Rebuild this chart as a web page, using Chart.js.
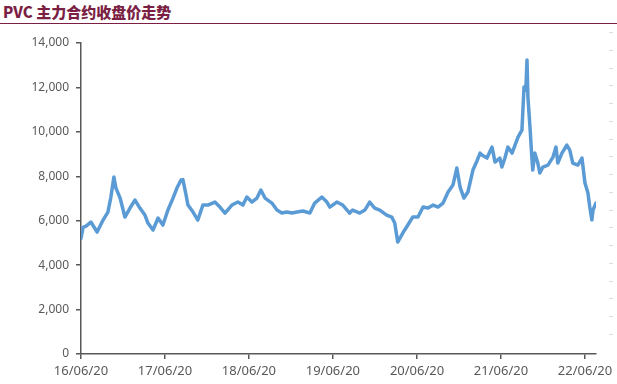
<!DOCTYPE html>
<html lang="zh">
<head>
  <meta charset="UTF-8">
  <title>PVC 主力合约收盘价走势</title>
  <style>
    html, body { margin: 0; padding: 0; background: #fff; }
    .wrap { position: relative; width: 617px; height: 384px; overflow: hidden; }
    .title {
      position: absolute; left: 0; top: 0; width: 617px; height: 24px;
      border-bottom: 1px solid #7b1f45;
      font-family: "Noto Sans CJK SC", sans-serif; font-weight: 900; font-size: 15px;
      color: #7b1f45; line-height: 24px; padding-left: 3px; box-sizing: border-box;
    }
    .box { position: absolute; left: 0; top: 25px; width: 617px; height: 359px; }
  </style>
</head>
<body>
  <div class="wrap">
    <div class="title">PVC 主力合约收盘价走势</div>
    <div class="box"><canvas id="graphic"></canvas></div>
  </div>

  <script src="https://cdn.jsdelivr.net/npm/chart.js"></script>
  <script>
    // 日期与收盘价(元/吨)
    const dates = [
      '2016-06-20','2016-06-29','2016-07-12','2016-08-02','2016-08-29','2016-09-24','2016-10-15','2016-10-28',
      '2016-11-10','2016-11-19','2016-12-07','2016-12-28','2017-01-19','2017-02-10','2017-03-03','2017-03-25',
      '2017-04-07','2017-04-29','2017-05-21','2017-06-11','2017-07-03','2017-07-25','2017-08-11','2017-08-29',
      '2017-09-06','2017-09-19','2017-09-28','2017-10-20','2017-11-10','2017-12-02','2017-12-24','2018-01-23',
      '2018-02-14','2018-03-08','2018-04-07','2018-05-03','2018-05-25','2018-06-11','2018-07-03','2018-07-25',
      '2018-08-11','2018-08-29','2018-09-28','2018-10-20','2018-11-10','2018-12-02','2018-12-24','2019-01-15',
      '2019-02-10','2019-03-12','2019-04-02','2019-05-03','2019-05-25','2019-06-07','2019-07-07','2019-08-02',
      '2019-09-01','2019-09-14','2019-10-15','2019-11-06','2019-11-27','2019-12-19','2020-01-10','2020-02-09',
      '2020-03-02','2020-03-15','2020-03-28','2020-04-19','2020-05-11','2020-06-01','2020-06-24','2020-07-16',
      '2020-08-07','2020-08-29','2020-09-19','2020-10-11','2020-11-02','2020-11-23','2020-12-10','2020-12-24',
      '2021-01-10','2021-01-27','2021-02-18','2021-03-08','2021-03-21','2021-03-29','2021-04-20','2021-05-12',
      '2021-05-25','2021-06-15','2021-06-24','2021-07-07','2021-07-20','2021-08-07','2021-08-20','2021-09-02',
      '2021-09-19','2021-09-28','2021-10-06','2021-10-11','2021-10-15','2021-10-24','2021-11-01','2021-11-05',
      '2021-11-14','2021-11-27','2021-12-06','2021-12-19','2022-01-10','2022-02-01','2022-02-14','2022-02-22',
      '2022-03-12','2022-04-02','2022-04-15','2022-04-28','2022-05-20','2022-06-07','2022-06-20','2022-07-03',
      '2022-07-11','2022-07-20','2022-07-25','2022-08-07'
    ];
    const prices = [
      5200,5700,5760,5940,5490,6030,6390,7065,
      7965,7470,7020,6165,6570,6930,6570,6255,
      5895,5580,6120,5805,6480,7020,7470,7830,
      7850,7200,6705,6390,6030,6705,6705,6840,
      6615,6345,6705,6840,6705,7065,6840,7020,
      7380,7020,6795,6480,6345,6390,6345,6390,
      6435,6345,6795,7065,6840,6615,6840,6705,
      6345,6480,6345,6480,6840,6570,6480,6255,
      6165,5895,5040,5445,5805,6165,6165,6615,
      6570,6705,6615,6795,7290,7605,8370,7515,
      7020,7290,8280,8700,9045,8955,8820,9315,
      8640,8820,8415,8820,9315,9045,9405,9765,
      10080,12015,11880,13230,11565,10215,8865,8280,
      9045,8595,8145,8415,8505,8865,9315,8595,
      9045,9405,9180,8595,8505,8820,7695,7245,
      6615,6030,6480,6795
    ];
    const yearTicks = ['2016-06-20','2017-06-20','2018-06-20','2019-06-20','2020-06-20','2021-06-20','2022-06-20'];
    const startDate = '2016-06-20';

    function dayOffset(d) {
      return (Date.parse(d) - Date.parse(startDate)) / 86400000;
    }
    function tickText(d) {
      // 2016-06-20 -> 16/06/20
      return d.slice(2).replace(/-/g, '/');
    }

    const points = dates.map((d, i) => ({ x: dayOffset(d), y: prices[i] }));
    const axisColor = '#595959';
    const labelFont = { family: '"Noto Sans", sans-serif', size: 12 };

    // 右侧浅灰短横线
    const sideMarks = {
      id: 'sideMarks',
      afterDraw(chart) {
        const ctx = chart.ctx;
        ctx.save();
        ctx.strokeStyle = '#dcdcdc';
        ctx.lineWidth = 1;
        for (let k = 0; k < 18; k++) {
          const y = 7.5 + Math.round(k * 17.75);
          ctx.beginPath();
          ctx.moveTo(609, y);
          ctx.lineTo(613, y);
          ctx.stroke();
        }
        ctx.restore();
      }
    };

    const grafico = new Chart(document.getElementById('graphic'), {
      type: 'line',
      data: {
        datasets: [{
          label: 'PVC',
          data: points,
          borderColor: '#5b9bd5',
          borderWidth: 3.5,
          borderJoinStyle: 'round',
          borderCapStyle: 'round',
          pointRadius: 0,
          tension: 0,
          fill: false
        }]
      },
      options: {
        responsive: true,
        maintainAspectRatio: false,
        animation: false,
        layout: { padding: { top: 18, right: 21, left: 0, bottom: 0 } },
        plugins: {
          legend: { display: false },
          tooltip: { enabled: false }
        },
        scales: {
          x: {
            type: 'linear',
            min: 0,
            max: dayOffset(dates[dates.length - 1]),
            afterBuildTicks: (scale) => {
              scale.ticks = yearTicks.map(d => ({ value: dayOffset(d) }));
            },
            afterFit: (scale) => { scale.height = 30; },
            grid: { drawOnChartArea: false, drawTicks: true, tickLength: 5, color: axisColor, lineWidth: 1.5 },
            border: { display: true, color: axisColor, width: 1.5 },
            ticks: {
              autoSkip: false,
              maxRotation: 0,
              padding: 4,
              color: axisColor,
              font: { family: '"Noto Sans", sans-serif', size: 13 },
              callback: (value) => {
                const d = yearTicks.find(t => dayOffset(t) === value);
                return d ? tickText(d) : '';
              }
            }
          },
          y: {
            min: 0,
            max: 14000,
            afterFit: (scale) => { scale.width = 81; },
            grid: { drawOnChartArea: false, drawTicks: true, tickLength: 5, color: axisColor, lineWidth: 1.5 },
            border: { display: true, color: axisColor, width: 1.5 },
            ticks: {
              stepSize: 2000,
              padding: 7,
              color: axisColor,
              font: labelFont,
              callback: (v) => v.toLocaleString('en-US')
            }
          }
        }
      },
      plugins: [sideMarks]
    });
  </script>
</body>
</html>
